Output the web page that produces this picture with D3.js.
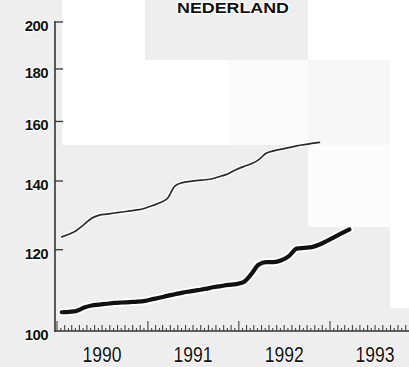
<!DOCTYPE html>
<html><head><meta charset="utf-8">
<script src="https://cdn.jsdelivr.net/npm/d3@7"></script>
<style>html,body{margin:0;padding:0;background:#eeeeee;overflow:hidden}</style>
</head><body>
<svg id="c" width="409" height="367"></svg>
<script>
// ---- data ----
const title = "NEDERLAND";
const startMonth = [1990, 0]; // January 1990, monthly observations
const thinSeries = [123.5,124.3,125.3,127.0,128.8,129.7,130.0,130.3,130.6,130.9,131.2,131.7,
  132.5,133.4,134.6,138.5,139.5,139.9,140.2,140.4,140.8,141.5,142.3,143.6,
  144.6,145.5,146.8,149.0,149.8,150.4,150.9,151.5,151.9,152.3,152.7];
const thickSeries = [104.3,104.4,104.6,105.4,105.9,106.1,106.3,106.5,106.6,106.7,106.8,107.0,
  107.4,107.8,108.2,108.6,109.0,109.3,109.6,109.9,110.3,110.6,110.9,111.1,
  111.6,113.6,116.0,116.7,116.7,117.2,118.3,120.3,120.5,120.7,121.4,122.4,
  123.5,124.6,125.6];
const yTicks = [100,120,140,160,180,200];
const yearLabels = ["1990","1991","1992","1993"];

// ---- layout ----
const svg = d3.select("#c");
const W = 409, H = 367;
const axisX = 55, axisY = 331;

// scanned background patches
const patches = [
  {x:62,y:0,w:83,h:145,c:"#ffffff"},
  {x:145,y:60,w:83,h:85,c:"#ffffff"},
  {x:228,y:60,w:80,h:85,c:"#fbfbfb"},
  {x:308,y:60,w:82,h:85,c:"#f7f7f7"},
  {x:308,y:0,w:101,h:60,c:"#ffffff"},
  {x:390,y:60,w:19,h:248,c:"#ffffff"},
  {x:308,y:145,w:82,h:82,c:"#fcfcfc"}
];
svg.append("rect").attr("width",W).attr("height",H).attr("fill","#eeeeee");
svg.selectAll("rect.p").data(patches).join("rect").attr("class","p")
  .attr("x",d=>d.x).attr("y",d=>d.y).attr("width",d=>d.w).attr("height",d=>d.h).attr("fill",d=>d.c);

const x = d3.scaleTime()
  .domain([new Date(1990,0,1), new Date(1993,0,1)])
  .range([57, 330]);
const y = d3.scaleLog().domain([100,200]).range([axisY, 22]);

const dateOf = i => new Date(startMonth[0], startMonth[1] + i, 20);
const line = d3.line().x((d,i)=>x(dateOf(i))).y(d=>y(d)).curve(d3.curveMonotoneX);

// lines with white scanner halo
const g = svg.append("g");
g.append("path").attr("d", line(thinSeries)).attr("fill","none")
  .attr("stroke","#fff").attr("stroke-width",4.5).attr("stroke-linejoin","round").attr("stroke-linecap","round");
g.append("path").attr("d", line(thickSeries)).attr("fill","none")
  .attr("stroke","#fff").attr("stroke-width",8).attr("stroke-linejoin","round").attr("stroke-linecap","round");
g.append("path").attr("d", line(thinSeries)).attr("fill","none")
  .attr("stroke","#2a2a2a").attr("stroke-width",1.7).attr("stroke-linejoin","round").attr("stroke-linecap","round");
g.append("path").attr("d", line(thickSeries)).attr("fill","none")
  .attr("stroke","#111").attr("stroke-width",4.2).attr("stroke-linejoin","round").attr("stroke-linecap","round");

// y axis
const ax = svg.append("g");
ax.append("line").attr("x1",axisX).attr("x2",axisX).attr("y1",y(200)-1).attr("y2",axisY+1)
  .attr("stroke","#333").attr("stroke-width",1.6);
ax.selectAll("line.yt").data(yTicks.filter(v=>v>100)).join("line").attr("class","yt")
  .attr("x1",axisX).attr("x2",axisX+8).attr("y1",d=>y(d)).attr("y2",d=>y(d))
  .attr("stroke","#333").attr("stroke-width",1.3);
ax.selectAll("text.yl").data(yTicks).join("text").attr("class","yl")
  .attr("x",48).attr("y",d=>y(d)+5).attr("text-anchor","end").attr("dominant-baseline","middle")
  .attr("font-family","'Liberation Sans', Arial, sans-serif").attr("font-weight","bold")
  .attr("font-size",15).attr("letter-spacing",-0.6).attr("fill","#111")
  .attr("stroke","#fff").attr("stroke-width",2.5).attr("paint-order","stroke")
  .text(d=>d);

// x axis
ax.append("line").attr("x1",axisX).attr("x2",W).attr("y1",axisY).attr("y2",axisY)
  .attr("stroke","#333").attr("stroke-width",1.5);
const tickDates = [];
d3.timeMonth.range(new Date(1990,0,1), new Date(1994,0,1)).forEach(m=>{
  tickDates.push({d:m, h: m.getMonth()===0 ? 10 : 6});
  tickDates.push({d:new Date(m.getFullYear(), m.getMonth(), 16), h:3});
});
ax.selectAll("line.xt").data(tickDates.filter(t=>x(t.d)<=W)).join("line").attr("class","xt")
  .attr("x1",t=>x(t.d)).attr("x2",t=>x(t.d)).attr("y1",axisY).attr("y2",t=>axisY-t.h)
  .attr("stroke","#444").attr("stroke-width",1.1);
ax.selectAll("text.xl").data(yearLabels).join("text").attr("class","xl")
  .attr("x",d=>x(new Date(+d,6,1))).attr("y",362).attr("text-anchor","middle")
  .attr("font-family","'Liberation Sans Narrow', 'Arial Narrow', sans-serif")
  .attr("font-size",22).attr("fill","#111")
  .attr("textLength",39).attr("lengthAdjust","spacingAndGlyphs")
  .attr("stroke","#fff").attr("stroke-width",2).attr("paint-order","stroke")
  .text(d=>d);

// title
svg.append("text").attr("x",233).attr("y",13).attr("text-anchor","middle")
  .attr("font-family","'Liberation Sans', Arial, sans-serif").attr("font-weight","bold")
  .attr("font-size",15).attr("fill","#111")
  .attr("textLength",112).attr("lengthAdjust","spacingAndGlyphs")
  .attr("stroke","#fff").attr("stroke-width",2.5).attr("paint-order","stroke")
  .text(title);
</script>
</body></html>
